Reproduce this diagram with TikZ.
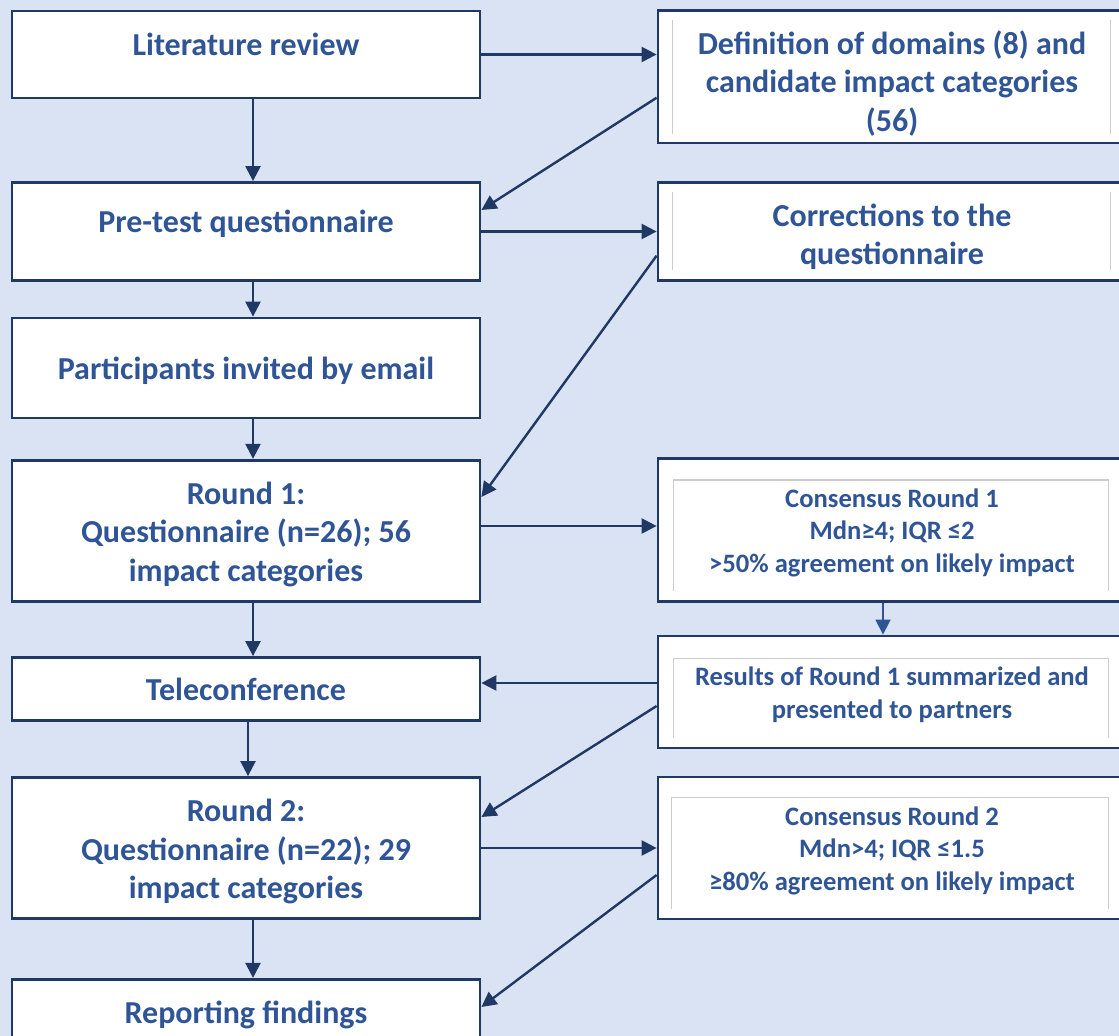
\documentclass[tikz,border=0pt]{standalone}
\usepackage{fontspec}
\setmainfont{Carlito}
\usepackage{xcolor}
\usetikzlibrary{calc}
\usetikzlibrary{arrows.meta}
\definecolor{bgblue}{HTML}{DAE3F3}
\definecolor{navy}{HTML}{203864}
\definecolor{txtblue}{HTML}{2F5597}
\newcommand{\padhi}[1][1.05em]{\rule{0pt}{#1}}
\newcommand{\padlo}[1][0.3em]{\rule[-#1]{0pt}{0pt}}
\tikzset{>={Triangle[length=7.5pt,width=7.5pt]}}
\tikzset{
	box/.style={draw=navy,line width=1.4pt,fill=white,minimum width=234pt,inner sep=0pt,align=center,text=txtblue,font=\fontsize{16}{19.25}\selectfont\bfseries},
	smallbox/.style={box,font=\fontsize{13.3}{16.25}\selectfont\bfseries},
	link/.style={->,draw=navy,line width=1.2pt},
	thinlink/.style={->,draw=txtblue,line width=0.8pt},
	tbframe/.style={draw=black!20,line width=0.8pt}
}

\begin{document}
\begin{tikzpicture}[x=0.5pt,y=-0.5pt]
	\useasboundingbox (0,0) rectangle (1119,1036);
	\fill[bgblue] (0,0) rectangle (1119,1036);
	% left column
	\node[box,minimum height=43.5pt] (lit) at (246,54.5) {\padhi Literature review\padlo[1em]};
	\node[box,minimum height=49pt] (pretest) at (246,231.5) {\padhi Pre-test questionnaire\padlo[1em]};
	\node[box,minimum height=50pt] (invite) at (246,368) {\padhi Participants invited by email\padlo};
	\node[box,minimum height=70.75pt] (round1) at (246,531) {\padhi Round 1:\\Questionnaire (n=26); 56\\impact categories\padlo};
	\node[box,minimum height=31.5pt] (tele) at (246,689) {\padhi Teleconference\padlo};
	\node[box,minimum height=70.5pt] (round2) at (246,848) {\padhi Round 2:\\Questionnaire (n=22); 29\\impact categories\padlo};
	\node[box,minimum height=31.7pt] (report) at (246,1011) {\padhi Reporting findings\padlo};
	% right column
	\node[box,minimum height=66.25pt] (def) at (892,76.75) {\padhi[1.3em]Definition of domains (8) and\\candidate impact categories\\(56)\padlo};
	\node[box,minimum height=49pt] (corr) at (892,231.7) {\padhi[1.175em]Corrections to the\\questionnaire\padlo};
	\node[smallbox,minimum height=71.85pt] (cons1) at (892,530) {\padhi Consensus Round 1\\Mdn≥4; IQR ≤2\\>50\% agreement on likely impact\padlo};
	\node[smallbox,minimum height=56pt] (results) at (892,692) {\padhi Results of Round 1 summarized and\\presented to partners\padlo};
	\node[smallbox,minimum height=71pt] (cons2) at (892,848) {\padhi Consensus Round 2\\Mdn>4; IQR ≤1.5\\≥80\% agreement on likely impact\padlo};
	% text box edges
	\draw[tbframe] ($(def.north west)+(16,11)$) -- ($(def.south west)+(16,-10)$);
	\draw[tbframe] ($(def.north east)+(-17,11)$) -- ($(def.south east)+(-17,-10)$);
	\draw[tbframe] ($(corr.north west)+(16,11)$) -- ($(corr.south west)+(16,-12)$);
	\draw[tbframe] ($(corr.north east)+(-17,11)$) -- ($(corr.south east)+(-17,-12)$);
	\draw[tbframe] ($(cons1.south west)+(17,-12)$) |- ($(cons1.north west)+(17,23)$) -| ($(cons1.south east)+(-19,-12)$);
	\draw[tbframe] ($(results.south west)+(17,-11)$) |- ($(results.north west)+(17,24)$) -| ($(results.south east)+(-19,-11)$);
	\draw[tbframe] ($(cons2.south west)+(15,-11)$) |- ($(cons2.north west)+(15,22)$) -| ($(cons2.south east)+(-19,-11)$);
	% connectors
	\draw[link] (lit.east) -- (def.west |- lit.east);
	\draw[link] ([xshift=3.5pt]lit.south) -- ([xshift=3.5pt]pretest.north);
	\draw[link] ([yshift=-10.5pt]def.west) -- ([yshift=10.75pt]pretest.east);
	\draw[link] (pretest.east) -- (corr.west |- pretest.east);
	\draw[link] ([xshift=3.5pt]pretest.south) -- ([xshift=3.5pt]invite.north);
	\draw[link] ([yshift=-12pt]corr.west) -- ([yshift=17pt]round1.east);
	\draw[link] ([xshift=3.5pt]invite.south) -- ([xshift=3.5pt]round1.north);
	\draw[link] ([yshift=2.5pt]round1.east) -- ([yshift=2pt]cons1.west);
	\draw[link] ([xshift=3.5pt]round1.south) -- ([xshift=3.5pt]tele.north);
	\draw[thinlink] ([xshift=-4.5pt]cons1.south) -- ([xshift=-4.5pt]results.north);
	\draw[link] ([yshift=4.5pt]results.west) -- ([yshift=3pt]tele.east);
	\draw[link] ([yshift=-7pt]results.west) -- ([yshift=15.5pt]round2.east);
	\draw[link] ([xshift=1pt]tele.south) -- ([xshift=1pt]round2.north);
	\draw[link] (round2.east) -- (cons2.west);
	\draw[link] ([xshift=3.5pt]round2.south) -- ([xshift=3.5pt]report.north);
	\draw[link] ([yshift=-13.5pt]cons2.west) -- ([yshift=2pt]report.east);
\end{tikzpicture}
\end{document}
